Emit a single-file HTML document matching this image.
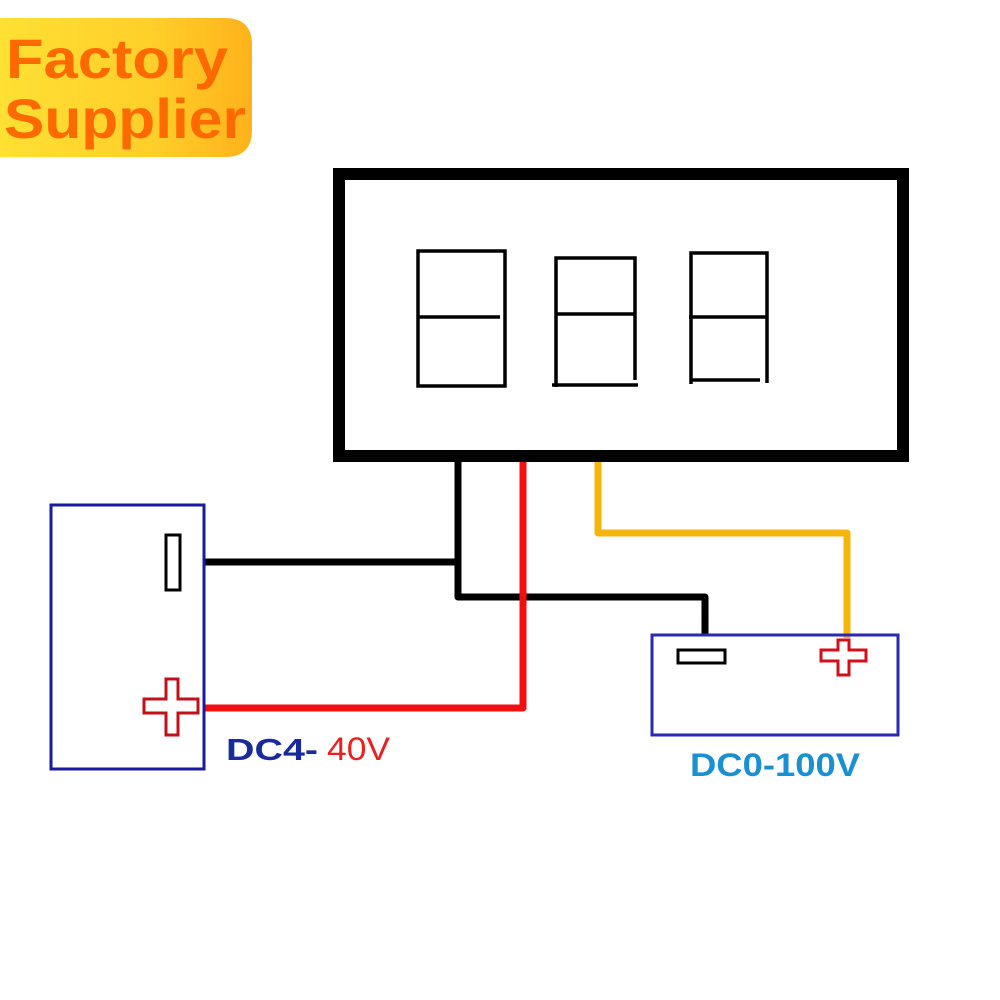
<!DOCTYPE html>
<html><head><meta charset="utf-8"><style>
html,body{margin:0;padding:0;background:#fff;width:1000px;height:1000px;overflow:hidden}
</style></head><body>
<svg width="1000" height="1000" viewBox="0 0 1000 1000" xmlns="http://www.w3.org/2000/svg">
<defs>
<linearGradient id="g" x1="0" y1="0" x2="1" y2="0">
<stop offset="0" stop-color="#ffe033"/><stop offset="0.6" stop-color="#ffcf2a"/><stop offset="1" stop-color="#ffb21a"/>
</linearGradient>
</defs>
<path d="M0 18 H225 Q252 18 252 45 V130 Q252 157 225 157 H0 Z" fill="url(#g)"/>
<text x="6" y="78" font-family="Liberation Sans, sans-serif" font-weight="bold" font-size="56" fill="#ff6a00" textLength="222" lengthAdjust="spacingAndGlyphs">Factory</text>
<text x="4" y="138" font-family="Liberation Sans, sans-serif" font-weight="bold" font-size="56" fill="#ff6a00" textLength="242" lengthAdjust="spacingAndGlyphs">Supplier</text>

<rect x="339" y="174" width="564" height="282" fill="none" stroke="#000" stroke-width="12"/>
<g fill="none" stroke="#000" stroke-width="3.5">
<rect x="418" y="251" width="87" height="135"/><line x1="418" y1="317" x2="500" y2="317"/>
<path d="M556 387 V258 H635 V380"/><line x1="552" y1="385" x2="638" y2="385"/><line x1="556" y1="314" x2="634" y2="314"/>
<path d="M691 384 V253 H767 V383"/><line x1="691" y1="380" x2="760" y2="380"/><line x1="689" y1="317" x2="767" y2="317"/>
</g>

<g fill="none" stroke-width="7" stroke-linejoin="round">
<path d="M458 462 V597 H705 V636" stroke="#000"/>
<path d="M203 562 H458" stroke="#000"/>
<path d="M598 462 V533 H847 V638" stroke="#f5b50c"/>
<path d="M523 462 V708 H203" stroke="#f01010"/>
</g>

<rect x="51" y="505" width="153" height="264" fill="none" stroke="#1a1aa0" stroke-width="3"/>
<rect x="166" y="535" width="14" height="55" fill="none" stroke="#000" stroke-width="3"/>
<path d="M166 679 h12 v20 h20 v14 h-20 v22 h-12 v-22 h-22 v-14 h22 z" fill="none" stroke="#c0101a" stroke-width="3"/>

<rect x="652" y="635" width="246" height="100" fill="none" stroke="#2a2ab0" stroke-width="3"/>
<rect x="678" y="650" width="47" height="13" fill="none" stroke="#000" stroke-width="3"/>
<path d="M838 640 h11 v10 h17 v11 h-17 v14 h-11 v-14 h-17 v-11 h17 z" fill="none" stroke="#d0101a" stroke-width="3"/>

<text x="226" y="760" font-family="Liberation Sans, sans-serif" font-weight="bold" font-size="31" fill="#1a2a9a" textLength="92" lengthAdjust="spacingAndGlyphs">DC4-</text>
<text x="327" y="760" font-family="Liberation Sans, sans-serif" font-size="32" fill="#e82020" textLength="63" lengthAdjust="spacingAndGlyphs">40V</text>
<text x="690" y="776" font-family="Liberation Sans, sans-serif" font-weight="bold" font-size="32" fill="#1a90d0" textLength="170" lengthAdjust="spacingAndGlyphs">DC0-100V</text>
</svg>
</body></html>
